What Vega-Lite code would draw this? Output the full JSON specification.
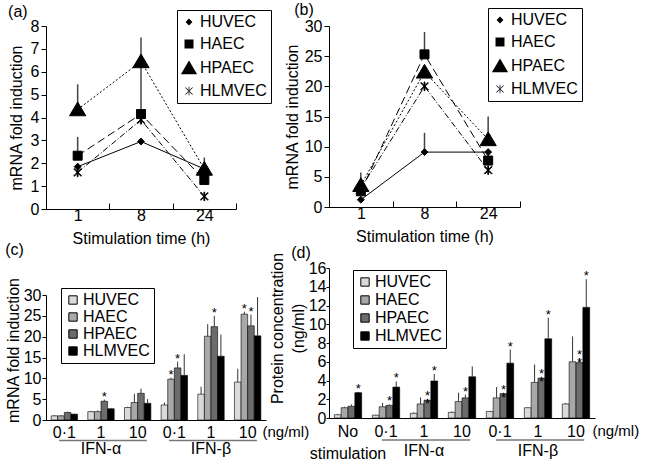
{
  "$schema": "https://vega.github.io/schema/vega-lite/v6.json",
  "padding": {"left": 5, "top": 1, "right": 0, "bottom": 0},
  "config": {
    "font": "Liberation Sans",
    "view": {"stroke": null},
    "axis": {"labelFontSize": 16, "titleFontSize": 16, "titleFontWeight": "normal", "labelColor": "black", "titleColor": "black", "domainColor": "black", "tickColor": "black", "grid": false, "labelFont": "Liberation Sans", "titleFont": "Liberation Sans", "labelOverlap": false},
    "legend": {"labelFontSize": 16, "labelColor": "black", "labelFont": "Liberation Sans"},
    "title": {"fontSize": 16, "fontWeight": "normal", "font": "Liberation Sans", "anchor": "start", "frame": "bounds", "color": "black"}
  },
  "datasets": {
    "lineA": [
      {"cell": "HUVEC", "time": 1, "value": 1.85, "upper": 2.0},
      {"cell": "HUVEC", "time": 8, "value": 2.95, "upper": 2.95},
      {"cell": "HUVEC", "time": 24, "value": 1.75, "upper": 1.75},
      {"cell": "HAEC", "time": 1, "value": 2.33, "upper": 3.15},
      {"cell": "HAEC", "time": 8, "value": 4.15, "upper": 6.4},
      {"cell": "HAEC", "time": 24, "value": 1.27, "upper": 1.27},
      {"cell": "HPAEC", "time": 1, "value": 4.35, "upper": 5.45},
      {"cell": "HPAEC", "time": 8, "value": 6.45, "upper": 7.5},
      {"cell": "HPAEC", "time": 24, "value": 1.75, "upper": 2.25},
      {"cell": "HLMVEC", "time": 1, "value": 1.6, "upper": 1.6},
      {"cell": "HLMVEC", "time": 8, "value": 3.9, "upper": 3.9},
      {"cell": "HLMVEC", "time": 24, "value": 0.55, "upper": 0.55}
    ],
    "lineB": [
      {"cell": "HUVEC", "time": 1, "value": 1.2, "upper": 1.2},
      {"cell": "HUVEC", "time": 8, "value": 9.1, "upper": 12.3},
      {"cell": "HUVEC", "time": 24, "value": 9.1, "upper": 9.1},
      {"cell": "HAEC", "time": 1, "value": 2.6, "upper": 2.6},
      {"cell": "HAEC", "time": 8, "value": 25.3, "upper": 29.0},
      {"cell": "HAEC", "time": 24, "value": 7.7, "upper": 9.0},
      {"cell": "HPAEC", "time": 1, "value": 3.6, "upper": 5.7},
      {"cell": "HPAEC", "time": 8, "value": 22.4, "upper": 22.4},
      {"cell": "HPAEC", "time": 24, "value": 11.2, "upper": 15.0},
      {"cell": "HLMVEC", "time": 1, "value": 3.1, "upper": 3.1},
      {"cell": "HLMVEC", "time": 8, "value": 20.0, "upper": 20.0},
      {"cell": "HLMVEC", "time": 24, "value": 6.1, "upper": 6.1}
    ],
    "barC": [
      {"group": "IFN-α 0·1", "cell": "HUVEC", "value": 1.0, "upper": 1.2, "sig": ""},
      {"group": "IFN-α 0·1", "cell": "HAEC", "value": 1.0, "upper": 1.2, "sig": ""},
      {"group": "IFN-α 0·1", "cell": "HPAEC", "value": 1.8, "upper": 2.0, "sig": ""},
      {"group": "IFN-α 0·1", "cell": "HLMVEC", "value": 1.4, "upper": 1.5, "sig": ""},
      {"group": "IFN-α 1", "cell": "HUVEC", "value": 2.0, "upper": 2.2, "sig": ""},
      {"group": "IFN-α 1", "cell": "HAEC", "value": 2.0, "upper": 2.3, "sig": ""},
      {"group": "IFN-α 1", "cell": "HPAEC", "value": 4.5, "upper": 4.9, "sig": "*"},
      {"group": "IFN-α 1", "cell": "HLMVEC", "value": 2.7, "upper": 2.9, "sig": ""},
      {"group": "IFN-α 10", "cell": "HUVEC", "value": 3.0, "upper": 3.2, "sig": ""},
      {"group": "IFN-α 10", "cell": "HAEC", "value": 4.2, "upper": 6.3, "sig": ""},
      {"group": "IFN-α 10", "cell": "HPAEC", "value": 6.4, "upper": 7.5, "sig": ""},
      {"group": "IFN-α 10", "cell": "HLMVEC", "value": 4.0, "upper": 5.0, "sig": ""},
      {"group": "IFN-β 0·1", "cell": "HUVEC", "value": 3.6, "upper": 4.2, "sig": ""},
      {"group": "IFN-β 0·1", "cell": "HAEC", "value": 9.8, "upper": 10.2, "sig": "*"},
      {"group": "IFN-β 0·1", "cell": "HPAEC", "value": 12.5, "upper": 14.0, "sig": "*"},
      {"group": "IFN-β 0·1", "cell": "HLMVEC", "value": 10.7, "upper": 15.8, "sig": ""},
      {"group": "IFN-β 1", "cell": "HUVEC", "value": 6.2, "upper": 8.0, "sig": ""},
      {"group": "IFN-β 1", "cell": "HAEC", "value": 20.1, "upper": 23.0, "sig": ""},
      {"group": "IFN-β 1", "cell": "HPAEC", "value": 22.4, "upper": 25.0, "sig": "*"},
      {"group": "IFN-β 1", "cell": "HLMVEC", "value": 15.3, "upper": 20.5, "sig": ""},
      {"group": "IFN-β 10", "cell": "HUVEC", "value": 9.1, "upper": 12.3, "sig": ""},
      {"group": "IFN-β 10", "cell": "HAEC", "value": 25.4, "upper": 26.0, "sig": "*"},
      {"group": "IFN-β 10", "cell": "HPAEC", "value": 22.6, "upper": 25.3, "sig": "*"},
      {"group": "IFN-β 10", "cell": "HLMVEC", "value": 20.2, "upper": 29.5, "sig": ""}
    ],
    "barD": [
      {"group": "No stimulation", "cell": "HUVEC", "value": 0.35, "upper": 0.45, "sig": ""},
      {"group": "No stimulation", "cell": "HAEC", "value": 1.1, "upper": 1.2, "sig": ""},
      {"group": "No stimulation", "cell": "HPAEC", "value": 1.25, "upper": 1.45, "sig": ""},
      {"group": "No stimulation", "cell": "HLMVEC", "value": 2.7, "upper": 2.75, "sig": "*\n*"},
      {"group": "IFN-α 0·1", "cell": "HUVEC", "value": 0.3, "upper": 0.35, "sig": ""},
      {"group": "IFN-α 0·1", "cell": "HAEC", "value": 1.2, "upper": 1.6, "sig": ""},
      {"group": "IFN-α 0·1", "cell": "HPAEC", "value": 1.35, "upper": 1.45, "sig": "*"},
      {"group": "IFN-α 0·1", "cell": "HLMVEC", "value": 3.3, "upper": 3.9, "sig": "*"},
      {"group": "IFN-α 1", "cell": "HUVEC", "value": 0.5, "upper": 0.6, "sig": ""},
      {"group": "IFN-α 1", "cell": "HAEC", "value": 1.5, "upper": 2.2, "sig": ""},
      {"group": "IFN-α 1", "cell": "HPAEC", "value": 1.9, "upper": 2.05, "sig": "*\n*"},
      {"group": "IFN-α 1", "cell": "HLMVEC", "value": 3.95, "upper": 4.7, "sig": "*"},
      {"group": "IFN-α 10", "cell": "HUVEC", "value": 0.6, "upper": 0.7, "sig": ""},
      {"group": "IFN-α 10", "cell": "HAEC", "value": 1.75, "upper": 2.7, "sig": ""},
      {"group": "IFN-α 10", "cell": "HPAEC", "value": 2.15, "upper": 2.5, "sig": "*"},
      {"group": "IFN-α 10", "cell": "HLMVEC", "value": 4.4, "upper": 5.5, "sig": ""},
      {"group": "IFN-β 0·1", "cell": "HUVEC", "value": 0.7, "upper": 0.75, "sig": ""},
      {"group": "IFN-β 0·1", "cell": "HAEC", "value": 2.15, "upper": 3.3, "sig": ""},
      {"group": "IFN-β 0·1", "cell": "HPAEC", "value": 2.6, "upper": 2.7, "sig": "*\n*"},
      {"group": "IFN-β 0·1", "cell": "HLMVEC", "value": 5.85, "upper": 7.3, "sig": "*"},
      {"group": "IFN-β 1", "cell": "HUVEC", "value": 1.1, "upper": 1.15, "sig": ""},
      {"group": "IFN-β 1", "cell": "HAEC", "value": 3.8, "upper": 5.7, "sig": ""},
      {"group": "IFN-β 1", "cell": "HPAEC", "value": 4.25, "upper": 4.4, "sig": "*\n*"},
      {"group": "IFN-β 1", "cell": "HLMVEC", "value": 8.45, "upper": 10.7, "sig": "*"},
      {"group": "IFN-β 10", "cell": "HUVEC", "value": 1.5, "upper": 1.6, "sig": ""},
      {"group": "IFN-β 10", "cell": "HAEC", "value": 6.0, "upper": 8.7, "sig": ""},
      {"group": "IFN-β 10", "cell": "HPAEC", "value": 5.9, "upper": 6.4, "sig": "*\n*"},
      {"group": "IFN-β 10", "cell": "HLMVEC", "value": 11.8, "upper": 14.8, "sig": "*"}
    ],
    "brackets": [
      {"family": "IFN-α", "from": "IFN-α 0·1", "mid": "IFN-α 1", "to": "IFN-α 10"},
      {"family": "IFN-β", "from": "IFN-β 0·1", "mid": "IFN-β 1", "to": "IFN-β 10"}
    ]
  },
  "spacing": -40,
  "resolve": {"scale": {"shape": "independent", "fill": "independent", "xOffset": "independent"}, "legend": {"shape": "independent", "fill": "independent"}},
  "hconcat": [
    {
      "spacing": -4,
      "resolve": {"scale": {"shape": "independent", "fill": "independent", "xOffset": "independent"}, "legend": {"shape": "independent", "fill": "independent"}},
      "vconcat": [
        {
          "width": 190, "height": 183,
          "title": {"text": "(a)", "offset": -10},
          "data": {"name": "lineA"},
          "layer": [
            {
              "mark": {"type": "rule", "color": "#444", "strokeWidth": 1.5},
              "encoding": {
                "x": {"field": "time", "type": "ordinal", "scale": {"type": "band", "paddingInner": 0, "paddingOuter": 0},
                      "axis": {"title": "Stimulation time (h)", "labelAngle": 0, "tickBand": "extent", "tickSize": -6, "labelPadding": 4, "titlePadding": 7}},
                "y": {"field": "value", "type": "quantitative", "scale": {"domain": [0, 8]},
                      "axis": {"title": "mRNA fold induction", "values": [0, 1, 2, 3, 4, 5, 6, 7, 8], "format": "d", "tickCount": 50, "labelOverlap": false, "tickSize": 5, "labelPadding": 2, "titlePadding": 6}},
                "y2": {"field": "upper"}
              }
            },
            {"transform": [{"filter": "datum.cell == 'HUVEC'"}], "mark": {"type": "line", "color": "black", "strokeWidth": 1}, "encoding": {"x": {"field": "time", "type": "ordinal"}, "y": {"field": "value", "type": "quantitative"}}},
            {"transform": [{"filter": "datum.cell == 'HAEC'"}], "mark": {"type": "line", "color": "black", "strokeWidth": 1, "strokeDash": [8, 4]}, "encoding": {"x": {"field": "time", "type": "ordinal"}, "y": {"field": "value", "type": "quantitative"}}},
            {"transform": [{"filter": "datum.cell == 'HPAEC'"}], "mark": {"type": "line", "color": "black", "strokeWidth": 1, "strokeDash": [2, 2]}, "encoding": {"x": {"field": "time", "type": "ordinal"}, "y": {"field": "value", "type": "quantitative"}}},
            {"transform": [{"filter": "datum.cell == 'HLMVEC'"}], "mark": {"type": "line", "color": "black", "strokeWidth": 1, "strokeDash": [6, 2, 1, 2]}, "encoding": {"x": {"field": "time", "type": "ordinal"}, "y": {"field": "value", "type": "quantitative"}}},
            {
              "mark": {"type": "point", "filled": true, "color": "black", "stroke": "black", "strokeWidth": 1, "opacity": 1, "size": 156},
              "encoding": {
                "x": {"field": "time", "type": "ordinal"},
                "y": {"field": "value", "type": "quantitative"},
                "shape": {"field": "cell", "type": "nominal",
                  "scale": {"domain": ["HUVEC", "HAEC", "HPAEC", "HLMVEC"], "range": ["M0,-0.55L0.55,0L0,0.55L-0.55,0Z", "M-0.72,-0.72L0.72,-0.72L0.72,0.72L-0.72,0.72Z", "M0,-1.2L1.3,1L-1.3,1Z", "M-0.62,-0.54L-0.54,-0.62L0.62,0.54L0.54,0.62ZM-0.62,0.54L-0.54,0.62L0.62,-0.54L0.54,-0.62ZM-0.06,-0.7L0.06,-0.7L0.06,0.7L-0.06,0.7Z"]},
                  "legend": {"title": null, "orient": "none", "legendX": 131, "legendY": -16, "strokeColor": "black", "fillColor": "white", "padding": 4, "symbolSize": 156, "symbolFillColor": "black", "symbolStrokeColor": "black", "symbolStrokeWidth": 1, "rowPadding": 6, "labelOffset": 3}}
              }
            }
          ]
        },
        {
          "width": 220, "height": 125,
          "title": {"text": "(c)", "offset": 19},
          "layer": [
            {
              "data": {"name": "barC"},
              "mark": {"type": "bar", "stroke": "black", "strokeWidth": 0.6},
              "encoding": {
                "x": {"field": "group", "type": "nominal",
                      "scale": {"domain": ["IFN-α 0·1", "IFN-α 1", "IFN-α 10", "IFN-β 0·1", "IFN-β 1", "IFN-β 10"], "paddingInner": 0.28, "paddingOuter": 0.14},
                      "axis": {"title": "(ng/ml)", "titleFontSize": 15, "titleAngle": 0, "titleAlign": "left", "titleBaseline": "middle", "titleX": 216, "titleY": 11, "ticks": false, "labelPadding": 4, "labelAngle": 0, "labelExpr": "split(datum.value, ' ')[1]"}},
                "xOffset": {"field": "cell", "type": "nominal", "scale": {"domain": ["HUVEC", "HAEC", "HPAEC", "HLMVEC"], "paddingInner": 0, "paddingOuter": 0}},
                "y": {"field": "value", "type": "quantitative", "scale": {"domain": [0, 30]},
                      "axis": {"title": "mRNA fold induction", "values": [0, 5, 10, 15, 20, 25, 30], "format": "d", "tickCount": 50, "labelOverlap": false, "tickSize": 4, "labelPadding": 1, "titlePadding": 2, "titleY": 55}},
                "fill": {"field": "cell", "type": "nominal", "scale": {"domain": ["HUVEC", "HAEC", "HPAEC", "HLMVEC"], "range": ["#dadada", "#a8a8a8", "#6c6c6c", "#000000"]},
                  "legend": {"title": null, "orient": "none", "legendX": 15, "legendY": -7, "strokeColor": "black", "fillColor": "white", "padding": 4, "symbolType": "square", "symbolSize": 70, "symbolStrokeColor": "black", "symbolStrokeWidth": 1, "rowPadding": 1, "labelOffset": 2}}
              }
            },
            {
              "data": {"name": "barC"},
              "mark": {"type": "rule", "color": "#333", "strokeWidth": 1},
              "encoding": {
                "x": {"field": "group", "type": "nominal", "scale": {"domain": ["IFN-α 0·1", "IFN-α 1", "IFN-α 10", "IFN-β 0·1", "IFN-β 1", "IFN-β 10"]}},
                "xOffset": {"field": "cell", "type": "nominal"},
                "y": {"field": "value", "type": "quantitative"},
                "y2": {"field": "upper"}
              }
            },
            {
              "data": {"name": "barC"},
              "transform": [{"filter": "datum.sig != ''"}],
              "mark": {"type": "text", "fontSize": 13, "baseline": "bottom", "dy": 4, "lineBreak": "\n", "lineHeight": 8, "color": "black"},
              "encoding": {
                "x": {"field": "group", "type": "nominal", "scale": {"domain": ["IFN-α 0·1", "IFN-α 1", "IFN-α 10", "IFN-β 0·1", "IFN-β 1", "IFN-β 10"]}},
                "xOffset": {"field": "cell", "type": "nominal"},
                "y": {"field": "upper", "type": "quantitative"},
                "text": {"field": "sig"}
              }
            },
            {
              "data": {"name": "brackets"},
              "mark": {"type": "rule", "color": "#777", "strokeWidth": 1.5},
              "encoding": {
                "x": {"field": "from", "type": "nominal", "bandPosition": 0.3, "scale": {"domain": ["IFN-α 0·1", "IFN-α 1", "IFN-α 10", "IFN-β 0·1", "IFN-β 1", "IFN-β 10"]}},
                "x2": {"field": "to", "bandPosition": 0.85},
                "y": {"datum": -4.9}
              }
            },
            {
              "data": {"name": "brackets"},
              "mark": {"type": "text", "fontSize": 16, "baseline": "middle", "color": "black"},
              "encoding": {
                "x": {"field": "mid", "type": "nominal", "scale": {"domain": ["IFN-α 0·1", "IFN-α 1", "IFN-α 10", "IFN-β 0·1", "IFN-β 1", "IFN-β 10"]}},
                "y": {"datum": -7.0},
                "text": {"field": "family"}
              }
            }
          ]
        }
      ]
    },
    {
      "spacing": 1,
      "resolve": {"scale": {"shape": "independent", "fill": "independent", "xOffset": "independent"}, "legend": {"shape": "independent", "fill": "independent"}},
      "vconcat": [
        {
          "width": 191, "height": 181,
          "title": {"text": "(b)", "offset": -10, "dx": 10},
          "data": {"name": "lineB"},
          "layer": [
            {
              "mark": {"type": "rule", "color": "#444", "strokeWidth": 1.5},
              "encoding": {
                "x": {"field": "time", "type": "ordinal", "scale": {"type": "band", "paddingInner": 0, "paddingOuter": 0},
                      "axis": {"title": "Stimulation time (h)", "labelAngle": 0, "tickBand": "extent", "tickSize": -6, "labelPadding": 4, "titlePadding": 7}},
                "y": {"field": "value", "type": "quantitative", "scale": {"domain": [0, 30]},
                      "axis": {"title": "mRNA fold induction", "values": [0, 5, 10, 15, 20, 25, 30], "format": "d", "tickCount": 50, "labelOverlap": false, "tickSize": 5, "labelPadding": 2, "titlePadding": 4}},
                "y2": {"field": "upper"}
              }
            },
            {"transform": [{"filter": "datum.cell == 'HUVEC'"}], "mark": {"type": "line", "color": "black", "strokeWidth": 1}, "encoding": {"x": {"field": "time", "type": "ordinal"}, "y": {"field": "value", "type": "quantitative"}}},
            {"transform": [{"filter": "datum.cell == 'HAEC'"}], "mark": {"type": "line", "color": "black", "strokeWidth": 1, "strokeDash": [8, 4]}, "encoding": {"x": {"field": "time", "type": "ordinal"}, "y": {"field": "value", "type": "quantitative"}}},
            {"transform": [{"filter": "datum.cell == 'HPAEC'"}], "mark": {"type": "line", "color": "black", "strokeWidth": 1, "strokeDash": [2, 2]}, "encoding": {"x": {"field": "time", "type": "ordinal"}, "y": {"field": "value", "type": "quantitative"}}},
            {"transform": [{"filter": "datum.cell == 'HLMVEC'"}], "mark": {"type": "line", "color": "black", "strokeWidth": 1, "strokeDash": [6, 2, 1, 2]}, "encoding": {"x": {"field": "time", "type": "ordinal"}, "y": {"field": "value", "type": "quantitative"}}},
            {
              "mark": {"type": "point", "filled": true, "color": "black", "stroke": "black", "strokeWidth": 1, "opacity": 1, "size": 156},
              "encoding": {
                "x": {"field": "time", "type": "ordinal"},
                "y": {"field": "value", "type": "quantitative"},
                "shape": {"field": "cell", "type": "nominal",
                  "scale": {"domain": ["HUVEC", "HAEC", "HPAEC", "HLMVEC"], "range": ["M0,-0.55L0.55,0L0,0.55L-0.55,0Z", "M-0.72,-0.72L0.72,-0.72L0.72,0.72L-0.72,0.72Z", "M0,-1.2L1.3,1L-1.3,1Z", "M-0.62,-0.54L-0.54,-0.62L0.62,0.54L0.54,0.62ZM-0.62,0.54L-0.54,0.62L0.62,-0.54L0.54,-0.62ZM-0.06,-0.7L0.06,-0.7L0.06,0.7L-0.06,0.7Z"]},
                  "legend": {"title": null, "orient": "none", "legendX": 159, "legendY": -18, "strokeColor": "black", "fillColor": "white", "padding": 4, "symbolSize": 156, "symbolFillColor": "black", "symbolStrokeColor": "black", "symbolStrokeWidth": 1, "rowPadding": 6, "labelOffset": 3}}
              }
            }
          ]
        },
        {
          "width": 266, "height": 150,
          "title": {"text": "(d)", "offset": -9, "dx": 22},
          "layer": [
            {
              "data": {"name": "barD"},
              "mark": {"type": "bar", "stroke": "black", "strokeWidth": 0.6},
              "encoding": {
                "x": {"field": "group", "type": "nominal",
                      "scale": {"domain": ["No stimulation", "IFN-α 0·1", "IFN-α 1", "IFN-α 10", "IFN-β 0·1", "IFN-β 1", "IFN-β 10"], "paddingInner": 0.28, "paddingOuter": 0.14},
                      "axis": {"title": "(ng/ml)", "titleFontSize": 15, "titleAngle": 0, "titleAlign": "left", "titleBaseline": "middle", "titleX": 263, "titleY": 12, "ticks": false, "labelPadding": 5, "labelAngle": 0, "labelLineHeight": 22, "labelExpr": "indexof(datum.value, 'IFN') == 0 ? split(datum.value, ' ')[1] : split(datum.value, ' ')"}},
                "xOffset": {"field": "cell", "type": "nominal", "scale": {"domain": ["HUVEC", "HAEC", "HPAEC", "HLMVEC"], "paddingInner": 0, "paddingOuter": 0}},
                "y": {"field": "value", "type": "quantitative", "scale": {"domain": [0, 16]},
                      "axis": {"title": ["Protein concentration", "(ng/ml)"], "titleLineHeight": 21, "values": [0, 2, 4, 6, 8, 10, 12, 14, 16], "format": "d", "tickCount": 50, "labelOverlap": false, "tickSize": 3, "labelPadding": 0, "titlePadding": 2, "titleY": 60}},
                "fill": {"field": "cell", "type": "nominal", "scale": {"domain": ["HUVEC", "HAEC", "HPAEC", "HLMVEC"], "range": ["#dadada", "#a8a8a8", "#6c6c6c", "#000000"]},
                  "legend": {"title": null, "orient": "none", "legendX": 24, "legendY": 2, "strokeColor": "black", "fillColor": "white", "padding": 4, "symbolType": "square", "symbolSize": 70, "symbolStrokeColor": "black", "symbolStrokeWidth": 1, "rowPadding": 2, "labelOffset": 2}}
              }
            },
            {
              "data": {"name": "barD"},
              "mark": {"type": "rule", "color": "#333", "strokeWidth": 1},
              "encoding": {
                "x": {"field": "group", "type": "nominal", "scale": {"domain": ["No stimulation", "IFN-α 0·1", "IFN-α 1", "IFN-α 10", "IFN-β 0·1", "IFN-β 1", "IFN-β 10"]}},
                "xOffset": {"field": "cell", "type": "nominal"},
                "y": {"field": "value", "type": "quantitative"},
                "y2": {"field": "upper"}
              }
            },
            {
              "data": {"name": "barD"},
              "transform": [{"filter": "datum.sig != ''"}],
              "mark": {"type": "text", "fontSize": 13, "baseline": "bottom", "dy": 4, "lineBreak": "\n", "lineHeight": 8, "color": "black"},
              "encoding": {
                "x": {"field": "group", "type": "nominal", "scale": {"domain": ["No stimulation", "IFN-α 0·1", "IFN-α 1", "IFN-α 10", "IFN-β 0·1", "IFN-β 1", "IFN-β 10"]}},
                "xOffset": {"field": "cell", "type": "nominal"},
                "y": {"field": "upper", "type": "quantitative"},
                "text": {"field": "sig"}
              }
            },
            {
              "data": {"name": "brackets"},
              "mark": {"type": "rule", "color": "#777", "strokeWidth": 1.5},
              "encoding": {
                "x": {"field": "from", "type": "nominal", "bandPosition": 0.35, "scale": {"domain": ["No stimulation", "IFN-α 0·1", "IFN-α 1", "IFN-α 10", "IFN-β 0·1", "IFN-β 1", "IFN-β 10"]}},
                "x2": {"field": "to", "bandPosition": 0.8},
                "y": {"datum": -2.35}
              }
            },
            {
              "data": {"name": "brackets"},
              "mark": {"type": "text", "fontSize": 16, "baseline": "middle", "color": "black"},
              "encoding": {
                "x": {"field": "mid", "type": "nominal", "scale": {"domain": ["No stimulation", "IFN-α 0·1", "IFN-α 1", "IFN-α 10", "IFN-β 0·1", "IFN-β 1", "IFN-β 10"]}},
                "y": {"datum": -3.5},
                "text": {"field": "family"}
              }
            }
          ]
        }
      ]
    }
  ]
}
